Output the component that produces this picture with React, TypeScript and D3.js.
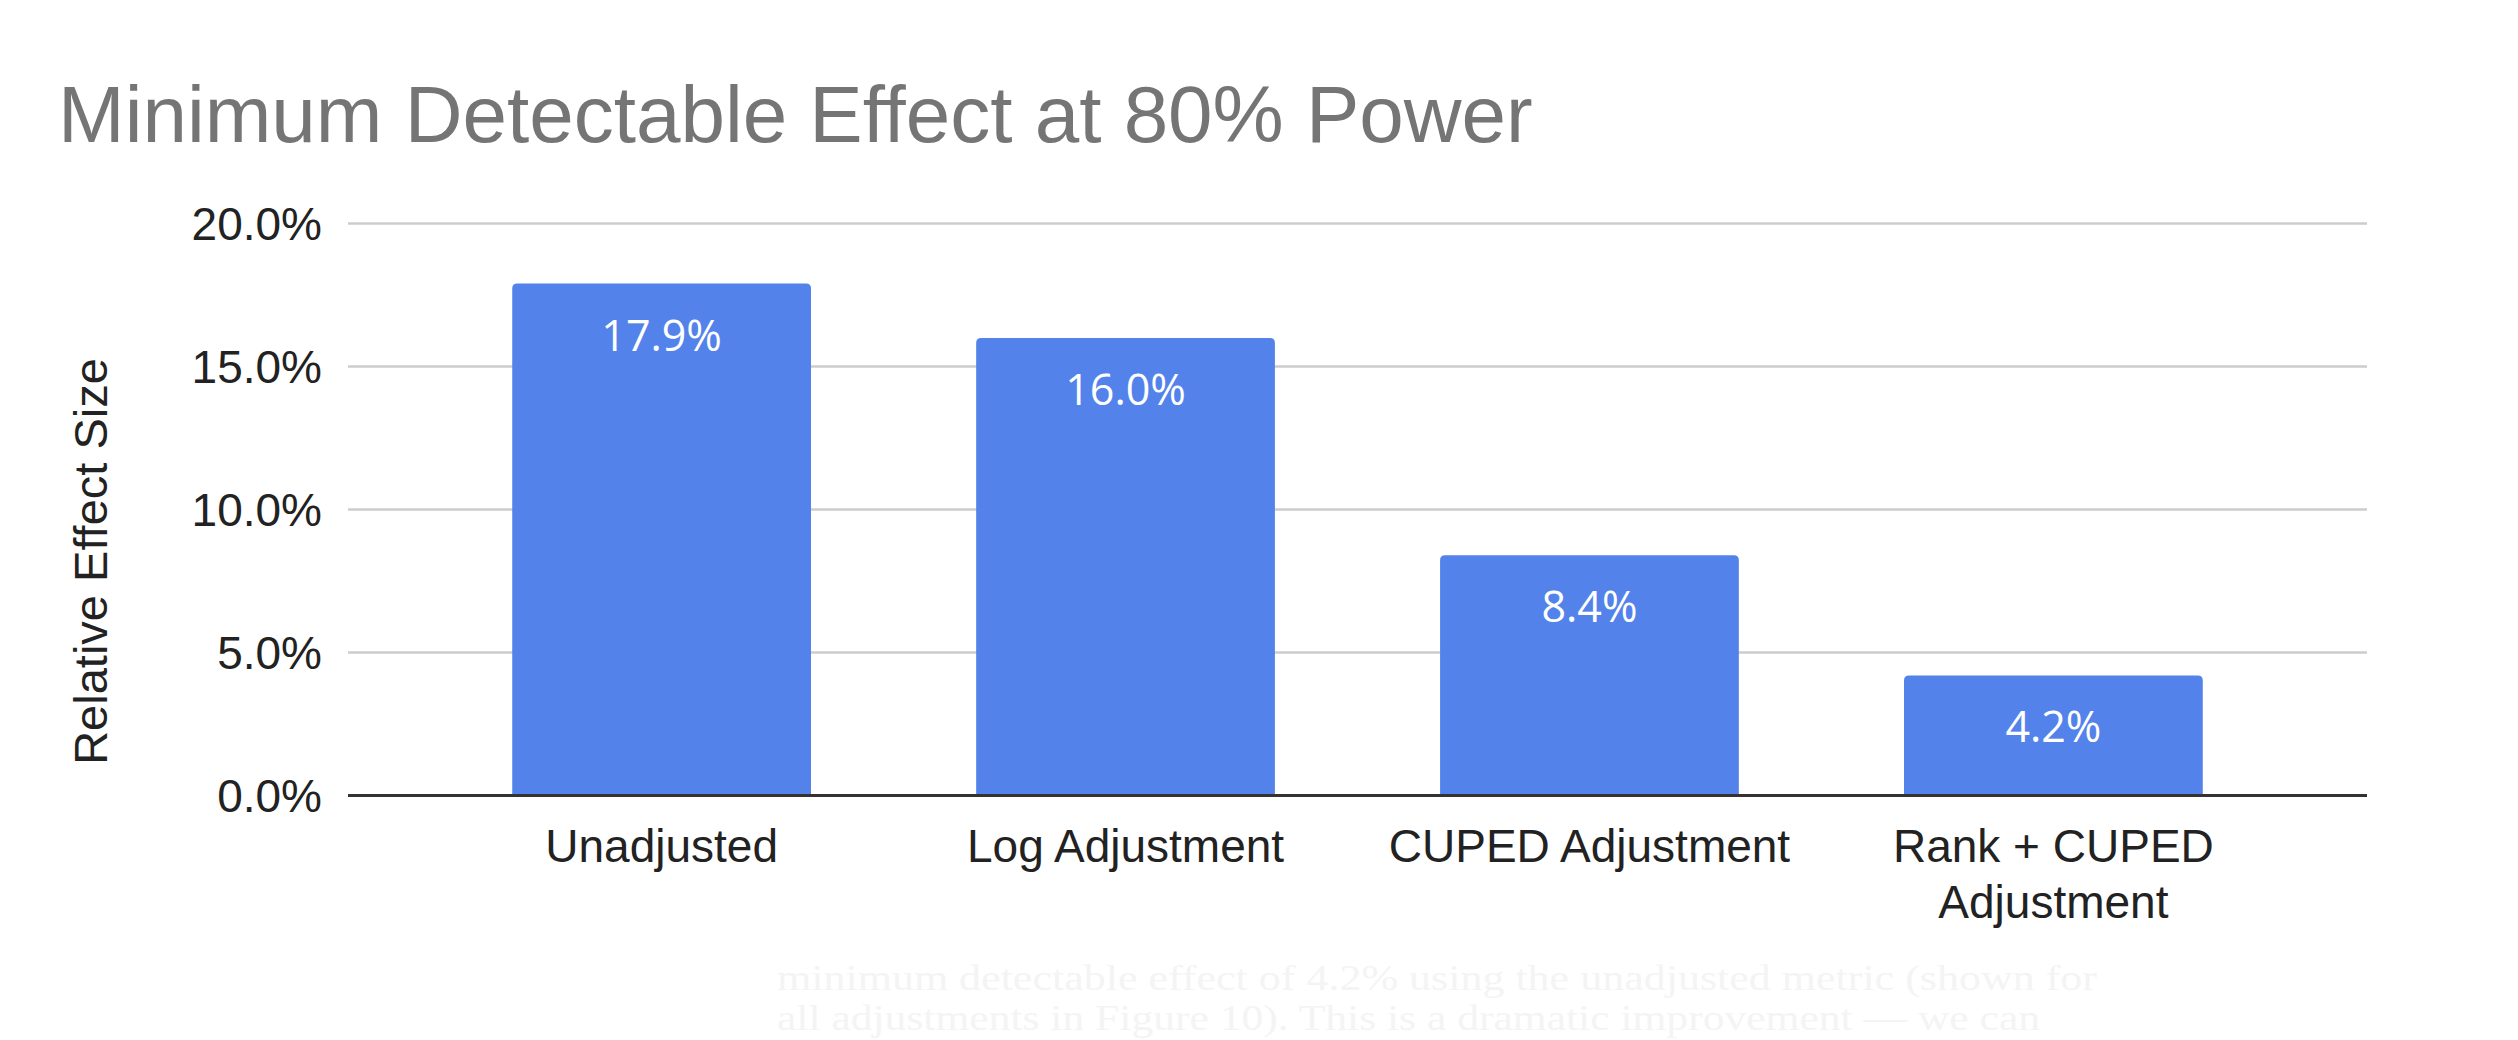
import React from "react";
import * as d3 from "d3";

const categories = ["Unadjusted", "Log Adjustment", "CUPED Adjustment", "Rank + CUPED Adjustment"];
const values = [17.9, 16.0, 8.4, 4.2];
const yTicks = [0, 5, 10, 15, 20];
const titleText = "Minimum Detectable Effect at 80% Power";
const yAxisTitle = "Relative Effect Size";
const ghostLines = [
  "minimum detectable effect of 4.2% using the unadjusted metric (shown for",
  "all adjustments in Figure 10). This is a dramatic improvement \u2014 we can",
];

const W = 2518;
const H = 1040;
const plot = { left: 348, right: 2367, top: 223.5, bottom: 795.5 };
const axisFont = "'Liberation Sans', Arial, sans-serif";
const labelFont = "'Open Sans', 'Noto Sans', sans-serif";

function wrapLabel(text: string, maxWidth: number, font: string): string[] {
  const canvas = document.createElement("canvas");
  const ctx = canvas.getContext("2d");
  if (!ctx) return [text];
  ctx.font = font;
  const words = text.split(" ");
  const lines: string[] = [];
  let cur = "";
  for (const w of words) {
    const test = cur ? cur + " " + w : w;
    if (ctx.measureText(test).width > maxWidth && cur) {
      lines.push(cur);
      cur = w;
    } else {
      cur = test;
    }
  }
  if (cur) lines.push(cur);
  return lines;
}

function roundedTopBar(x: number, y: number, w: number, h: number, r: number) {
  const rr = Math.min(r, h / 2, w / 2);
  return `M${x},${y + h}V${y + rr}Q${x},${y} ${x + rr},${y}H${x + w - rr}Q${x + w},${y} ${x + w},${y + rr}V${y + h}Z`;
}

export default function App() {
  const x = d3.scaleBand<string>().domain(categories).range([plot.left, plot.right]).paddingInner(0.356).paddingOuter(0.354);
  const y = d3.scaleLinear().domain([0, 20]).range([plot.bottom, plot.top]);
  const fmt = (v: number) => v.toFixed(1) + "%";

  return (
    <svg width={W} height={H} style={{ position: "absolute", left: 0, top: 0, background: "#fff" }}>
      <rect x={0} y={0} width={W} height={H} fill="#ffffff" />
      {ghostLines.map((t, i) => (
        <text key={i} x={777} y={990 + i * 40} fill="#f4f4f4" fontFamily="'Liberation Serif', serif" fontSize={36}
          textLength={i === 0 ? 1320 : 1263} lengthAdjust="spacingAndGlyphs">{t}</text>
      ))}
      <text x={58} y={142} fill="#757575" fontFamily={axisFont} fontSize={80}>{titleText}</text>

      {yTicks.filter((t) => t !== 0).map((t) => (
        <line key={t} x1={plot.left} x2={plot.right} y1={y(t)} y2={y(t)} stroke="#cccccc" strokeWidth={2.5} />
      ))}
      {yTicks.map((t) => (
        <text key={t} x={322} y={y(t)} dy="0.36em" textAnchor="end" fill="#222" fontFamily={axisFont} fontSize={46}>{fmt(t)}</text>
      ))}
      <text transform={`translate(107,${(plot.top + plot.bottom) / 2 + 52}) rotate(-90)`} textAnchor="middle" fill="#222" fontFamily={axisFont} fontSize={47}>{yAxisTitle}</text>

      {categories.map((c, i) => {
        const bx = x(c)!;
        const by = y(values[i]);
        const bw = x.bandwidth();
        return (
          <g key={c}>
            <path d={roundedTopBar(bx, by, bw, y(0) - by, 5)} fill="#5383ea" />
            <text x={bx + bw / 2} y={by + 67} textAnchor="middle" fill="#ffffff" fontFamily={labelFont} fontSize={43}>{fmt(values[i])}</text>
          </g>
        );
      })}
      <line x1={plot.left} x2={plot.right} y1={y(0)} y2={y(0)} stroke="#333333" strokeWidth={3} />

      {categories.map((c) => {
        const lines = wrapLabel(c, x.step(), `46px ${axisFont}`);
        const cx = x(c)! + x.bandwidth() / 2;
        return (
          <text key={c} x={cx} y={862} textAnchor="middle" fill="#222" fontFamily={axisFont} fontSize={46}>
            {lines.map((l, j) => (
              <tspan key={j} x={cx} dy={j === 0 ? 0 : 56}>{l}</tspan>
            ))}
          </text>
        );
      })}
    </svg>
  );
}
